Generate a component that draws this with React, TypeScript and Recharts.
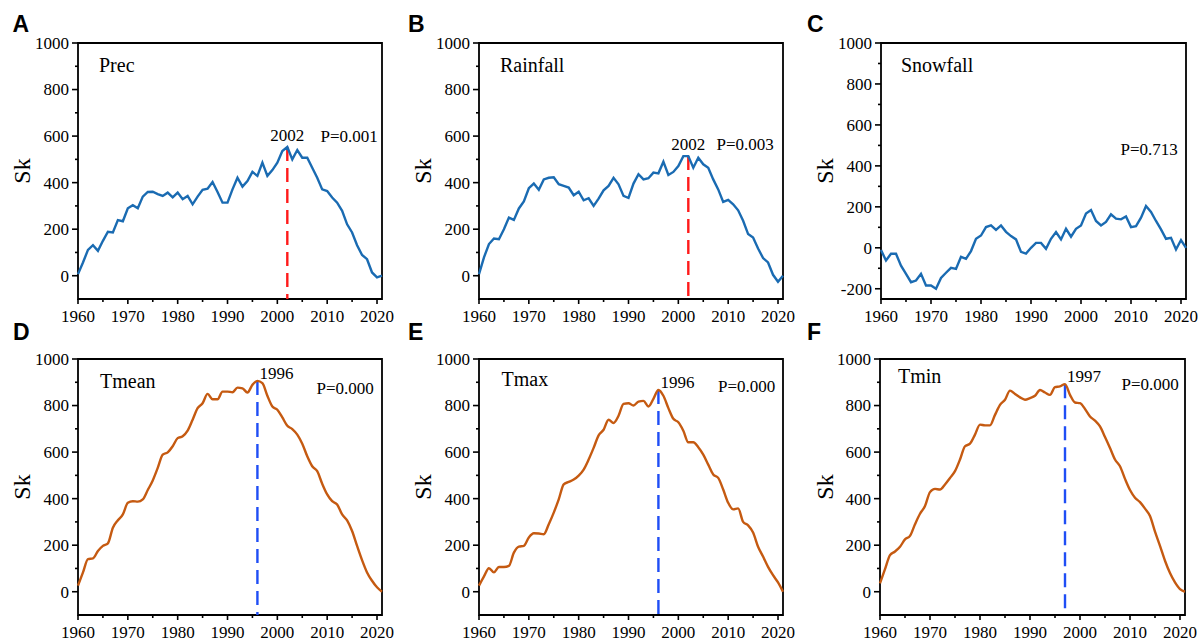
import React from 'react'
import { LineChart, Line, XAxis, YAxis, ReferenceArea, ReferenceLine } from 'recharts'

const YEARS = Array.from({ length: 62 }, (_, i) => 1960 + i)

const PREC = [7, 57, 111, 131, 107, 150, 189, 186, 239, 234, 290, 303, 290, 340, 360, 361, 351, 343, 357, 337, 357, 329, 343, 307, 340, 369, 374, 403, 360, 314, 314, 371, 421, 383, 407, 446, 429, 486, 429, 454, 486, 536, 553, 500, 540, 507, 507, 464, 421, 371, 364, 336, 314, 279, 221, 186, 131, 89, 71, 14, -7, 0]
const RAINFALL = [7, 79, 136, 160, 157, 200, 250, 240, 289, 319, 376, 396, 369, 414, 421, 423, 393, 386, 379, 346, 361, 324, 333, 300, 331, 367, 386, 421, 393, 343, 334, 396, 436, 414, 419, 443, 440, 490, 433, 446, 471, 514, 514, 464, 507, 479, 464, 414, 371, 317, 326, 307, 281, 236, 179, 164, 117, 76, 57, 4, -26, 0]
const SNOWFALL = [-11, -62, -29, -29, -87, -127, -168, -160, -127, -184, -184, -200, -147, -122, -98, -103, -44, -54, -16, 44, 60, 101, 109, 87, 109, 78, 57, 41, -20, -28, 0, 24, 24, -5, 44, 77, 41, 93, 54, 93, 109, 167, 184, 131, 109, 126, 163, 142, 139, 153, 101, 106, 147, 204, 175, 131, 90, 44, 49, -8, 38, 0]
const TMEAN = [26, 83, 140, 143, 175, 197, 208, 275, 307, 332, 382, 389, 387, 397, 437, 478, 532, 589, 599, 625, 660, 668, 692, 739, 789, 810, 850, 827, 827, 860, 860, 857, 877, 874, 856, 889, 906, 896, 842, 796, 782, 749, 713, 699, 675, 636, 582, 539, 518, 464, 418, 389, 375, 332, 307, 261, 197, 136, 83, 47, 19, 0]
const TMAX = [26, 66, 101, 83, 106, 106, 111, 168, 194, 197, 233, 251, 250, 247, 290, 340, 397, 461, 472, 482, 499, 525, 568, 618, 672, 696, 739, 725, 756, 807, 810, 800, 817, 820, 796, 829, 867, 842, 789, 743, 728, 692, 642, 642, 621, 589, 546, 504, 489, 439, 382, 354, 358, 300, 285, 254, 193, 151, 107, 71, 40, 0]
const TMIN = [36, 97, 157, 173, 193, 225, 240, 290, 335, 368, 428, 442, 439, 461, 489, 518, 568, 625, 636, 675, 718, 715, 715, 760, 803, 825, 864, 850, 835, 825, 832, 842, 867, 856, 846, 879, 882, 892, 846, 813, 810, 785, 753, 735, 710, 665, 618, 568, 539, 485, 437, 404, 385, 357, 325, 258, 197, 133, 80, 40, 11, 0]

const X_TICKS = [1960, 1965, 1970, 1975, 1980, 1985, 1990, 1995, 2000, 2005, 2010, 2015, 2020]
const Y_TICKS = [0, 100, 200, 300, 400, 500, 600, 700, 800, 900, 1000]
const Y_TICKS_SNOW = [-200, -100, 0, 100, 200, 300, 400, 500, 600, 700, 800, 900, 1000]

const SERIF = '"Liberation Serif", "Times New Roman", serif'
const SANS = '"Liberation Sans", Arial, sans-serif'
const BLUE = '#1a6bb2'
const ORANGE = '#c55a11'

const XTick = (props: any) => {
  const { x, y, payload } = props
  const major = payload.value % 10 === 0
  return (
    <g>
      <line x1={x} x2={x} y1={y} y2={y + (major ? 5 : 3)} stroke="#000" strokeWidth={1.6} />
      {major && (
        <text x={x} y={y + 22.5} textAnchor="middle" fontSize={17} fontFamily={SERIF} fill="#000">
          {payload.value}
        </text>
      )}
    </g>
  )
}

const YTick = (props: any) => {
  const { x, y, payload } = props
  const major = payload.value % 200 === 0
  return (
    <g>
      <line x1={x} x2={x - (major ? 6 : 3)} y1={y} y2={y} stroke="#000" strokeWidth={1.6} />
      {major && (
        <text x={x - 9} y={y} dy="0.35em" textAnchor="end" fontSize={17} fontFamily={SERIF} fill="#000">
          {payload.value}
        </text>
      )}
    </g>
  )
}

interface Panel {
  letter: string
  name: string
  p: string
  series: number[]
  color: string
  curve: 'linear' | 'monotone'
  yMin: number
  yTicks: number[]
  change?: number
  changeColor?: string
  labelSide?: 'top' | 'right'
  cx: number
  cy: number
  left: number
  width: number
  nameAt: [number, number]
  pAt: [number, number]
}

const PANELS: Panel[] = [
  { letter: 'A', name: 'Prec', p: 'P=0.001', series: PREC, color: BLUE, curve: 'linear', yMin: -100, yTicks: Y_TICKS, change: 2002, changeColor: '#ff1a1a', labelSide: 'top', cx: 0, cy: 0, left: 78, width: 304, nameAt: [99, 72], pAt: [320.5, 141.5] },
  { letter: 'B', name: 'Rainfall', p: 'P=0.003', series: RAINFALL, color: BLUE, curve: 'linear', yMin: -100, yTicks: Y_TICKS, change: 2002, changeColor: '#ff1a1a', labelSide: 'top', cx: 401, cy: 0, left: 78, width: 304, nameAt: [500, 72], pAt: [716.5, 150] },
  { letter: 'C', name: 'Snowfall', p: 'P=0.713', series: SNOWFALL, color: BLUE, curve: 'linear', yMin: -250, yTicks: Y_TICKS_SNOW, cx: 802, cy: 0, left: 79, width: 305, nameAt: [901, 72], pAt: [1120.5, 155] },
  { letter: 'D', name: 'Tmean', p: 'P=0.000', series: TMEAN, color: ORANGE, curve: 'monotone', yMin: -100, yTicks: Y_TICKS, change: 1996, changeColor: '#1f4ef5', labelSide: 'right', cx: 0, cy: 316, left: 78, width: 304, nameAt: [100, 388], pAt: [316.5, 394] },
  { letter: 'E', name: 'Tmax', p: 'P=0.000', series: TMAX, color: ORANGE, curve: 'monotone', yMin: -100, yTicks: Y_TICKS, change: 1996, changeColor: '#1f4ef5', labelSide: 'right', cx: 401, cy: 316, left: 78, width: 304, nameAt: [501.5, 386], pAt: [718, 392] },
  { letter: 'F', name: 'Tmin', p: 'P=0.000', series: TMIN, color: ORANGE, curve: 'monotone', yMin: -100, yTicks: Y_TICKS, change: 1997, changeColor: '#1f4ef5', labelSide: 'right', cx: 802, cy: 316, left: 78, width: 305, nameAt: [898, 383], pAt: [1121.5, 390] },
]

const CHART_W = 401
const CHART_H = 326

function PanelChart({ panel }: { panel: Panel }) {
  const rows = YEARS.map((year, i) => ({ year, v: panel.series[i] }))
  const peak = panel.change != null ? panel.series[panel.change - 1960] : 0

  const changeLabel = (props: any) => {
    const vb = props.viewBox || {}
    if (panel.labelSide === 'top') {
      return (
        <text x={vb.x} y={vb.y - 6} textAnchor="middle" fontSize={17} fontFamily={SERIF} fill="#000">
          {panel.change}
        </text>
      )
    }
    return (
      <text x={vb.x + 2} y={vb.y - 2} textAnchor="start" fontSize={17} fontFamily={SERIF} fill="#000">
        {panel.change}
      </text>
    )
  }

  return (
    <div style={{ position: 'absolute', left: panel.cx, top: panel.cy }}>
      <LineChart
        width={CHART_W}
        height={CHART_H}
        data={rows}
        margin={{ top: 43, left: 0, right: CHART_W - panel.left - panel.width, bottom: 0 }}
      >
        <XAxis
          dataKey="year"
          type="number"
          domain={[1960, 2021]}
          ticks={X_TICKS}
          interval={0}
          height={CHART_H - 43 - 256}
          tickSize={0}
          tickMargin={0}
          axisLine={false}
          tickLine={false}
          tick={XTick}
        />
        <YAxis
          type="number"
          domain={[panel.yMin, 1000]}
          ticks={panel.yTicks}
          interval={0}
          width={panel.left}
          tickSize={0}
          tickMargin={0}
          axisLine={false}
          tickLine={false}
          tick={YTick}
        />
        <ReferenceArea x1={1960} x2={2021} y1={panel.yMin} y2={1000} fill="none" stroke="#000" strokeWidth={1.8} />
        {panel.change != null && (
          <ReferenceLine
            segment={[{ x: panel.change, y: peak }, { x: panel.change, y: panel.yMin }]}
            stroke={panel.changeColor}
            strokeWidth={2.4}
            strokeDasharray="14 7"
            label={{ content: changeLabel }}
          />
        )}
        <Line
          dataKey="v"
          type={panel.curve}
          stroke={panel.color}
          strokeWidth={2.4}
          dot={false}
          isAnimationActive={false}
        />
      </LineChart>
    </div>
  )
}

export default function App() {
  const letterPos = [[12.5, 32], [408, 32], [807, 32], [13, 339.5], [408, 339.5], [807, 339.5]]
  const skX = [30, 431, 832.5]
  return (
    <div style={{ position: 'absolute', left: 0, top: 0, width: 1201, height: 642, background: '#fff' }}>
      {PANELS.map((p) => (
        <PanelChart key={p.letter} panel={p} />
      ))}
      <svg width={1201} height={642} style={{ position: 'absolute', left: 0, top: 0, pointerEvents: 'none' }}>
        {PANELS.map((p, i) => {
          const sx = skX[i % 3]
          const sy = i < 3 ? 171 : 487
          return (
            <g key={p.letter}>
              <text x={letterPos[i][0]} y={letterPos[i][1]} fontSize={23} fontWeight="bold" fontFamily={SANS} fill="#000">
                {p.letter}
              </text>
              <text x={sx} y={sy} transform={`rotate(-90 ${sx} ${sy})`} textAnchor="middle" fontSize={24} fontFamily={SERIF} fill="#000">
                Sk
              </text>
              <text x={p.nameAt[0]} y={p.nameAt[1]} fontSize={20} fontFamily={SERIF} fill="#000">
                {p.name}
              </text>
              <text x={p.pAt[0]} y={p.pAt[1]} fontSize={17} fontFamily={SERIF} fill="#000">
                {p.p}
              </text>
            </g>
          )
        })}
      </svg>
    </div>
  )
}
